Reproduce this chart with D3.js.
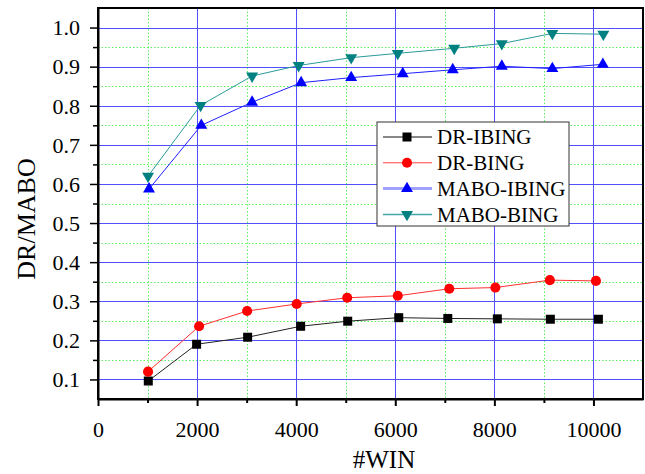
<!DOCTYPE html>
<html>
<head>
<meta charset="utf-8">
<script src="https://cdn.jsdelivr.net/npm/d3@7/dist/d3.min.js"></script>
<style>
  body { margin: 0; background: #fff; }
  svg { display: block; font-family: "Liberation Serif", "DejaVu Serif", serif; }
  .axis path, .axis line { stroke: #000; }
  .axis text { font-size: 22px; fill: #000; font-family: "Liberation Serif", serif; }
</style>
</head>
<body>
<div id="chart"></div>
<script>
// Data
var seriesNames = ["DR-IBING", "DR-BING", "MABO-IBING", "MABO-BING"];

var winDrIbing = [1015, 1990, 3020, 4090, 5040, 6070, 7060, 8060, 9130, 10100];
var drIbing = [0.096, 0.190, 0.208, 0.236, 0.249, 0.258, 0.256, 0.255, 0.254, 0.254];

var winDrBing = [1010, 2040, 3010, 4010, 5030, 6050, 7090, 8020, 9120, 10050];
var drBing = [0.120, 0.236, 0.275, 0.293, 0.309, 0.314, 0.332, 0.335, 0.354, 0.352];

var winMaboIbing = [1030, 2085, 3110, 4100, 5110, 6150, 7160, 8150, 9170, 10190];
var maboIbing = [0.587, 0.750, 0.809, 0.859, 0.872, 0.882, 0.892, 0.901, 0.895, 0.906];

var winMaboBing = [1010, 2070, 3110, 4050, 5110, 6050, 7190, 8150, 9170, 10200];
var maboBing = [0.620, 0.801, 0.876, 0.903, 0.923, 0.934, 0.947, 0.959, 0.985, 0.983];

var xMajorTicks = [0, 2000, 4000, 6000, 8000, 10000];
var xMinorTicks = [1000, 3000, 5000, 7000, 9000];
var yMajorTicks = [0.1, 0.2, 0.3, 0.4, 0.5, 0.6, 0.7, 0.8, 0.9, 1.0];
var yMinorTicks = [0.15, 0.25, 0.35, 0.45, 0.55, 0.65, 0.75, 0.85, 0.95];

var render = function() {
  var width = 645, height = 474;
  var margins = { top: 8, right: 2, bottom: 75, left: 98 };
  var chartWidth = width - margins.left - margins.right;
  var chartHeight = height - margins.top - margins.bottom;

  var svg = d3.select("#chart").html("")
    .append("svg")
    .attr("width", width)
    .attr("height", height);

  var chart = svg.append("g")
    .attr("transform", `translate(${margins.left},${margins.top})`);

  var xScale = d3.scaleLinear().domain([0, 11000]).range([0, chartWidth]);
  var yScale = d3.scaleLinear().domain([0.05, 1.05]).range([chartHeight, 0]);

  // grid
  var snap = v => Math.round(v) + 0.5;
  chart.append("g").selectAll("line")
    .data(yMinorTicks).enter().append("line")
    .attr("x1", 0).attr("x2", chartWidth)
    .attr("y1", d => snap(yScale(d))).attr("y2", d => snap(yScale(d)))
    .attr("stroke", "#5cf05c").attr("stroke-dasharray", "1.5,2");
  chart.append("g").selectAll("line")
    .data(xMinorTicks).enter().append("line")
    .attr("y1", 0).attr("y2", chartHeight)
    .attr("x1", d => snap(xScale(d))).attr("x2", d => snap(xScale(d)))
    .attr("stroke", "#5cf05c").attr("stroke-dasharray", "1.5,2");
  chart.append("g").selectAll("line")
    .data(yMajorTicks).enter().append("line")
    .attr("x1", 0).attr("x2", chartWidth)
    .attr("y1", d => snap(yScale(d))).attr("y2", d => snap(yScale(d)))
    .attr("stroke", "#5050ff");
  chart.append("g").selectAll("line")
    .data(xMajorTicks.slice(1)).enter().append("line")
    .attr("y1", 0).attr("y2", chartHeight)
    .attr("x1", d => snap(xScale(d))).attr("x2", d => snap(xScale(d)))
    .attr("stroke", "#5050ff");

  // frame
  chart.append("rect")
    .attr("x", 0).attr("y", 0)
    .attr("width", chartWidth).attr("height", chartHeight)
    .attr("fill", "none").attr("stroke", "#000").attr("stroke-width", 2);

  // axes
  chart.append("g").attr("class", "x axis")
    .attr("transform", `translate(0,${chartHeight})`)
    .call(d3.axisBottom(xScale).tickValues(xMajorTicks).tickSize(7).tickSizeOuter(0).tickPadding(15).tickFormat(d3.format("d")))
    .call(g => g.select(".domain").attr("stroke-width", 2))
    .call(g => g.selectAll(".tick line").attr("stroke-width", 2));
  chart.append("g").attr("class", "x axis")
    .attr("transform", `translate(0,${chartHeight})`)
    .call(d3.axisBottom(xScale).tickValues(xMinorTicks).tickSize(4).tickSizeOuter(0).tickFormat(""))
    .call(g => g.select(".domain").remove())
    .call(g => g.selectAll(".tick line").attr("stroke-width", 2));

  chart.append("g").attr("class", "y axis")
    .call(d3.axisLeft(yScale).tickValues(yMajorTicks).tickSize(8).tickSizeOuter(0).tickPadding(10).tickFormat(d3.format(".1f")))
    .call(g => g.select(".domain").attr("stroke-width", 2))
    .call(g => g.selectAll(".tick line").attr("stroke-width", 1.5))
    .call(g => g.selectAll(".tick text").attr("dy", "0.33em"));
  chart.append("g").attr("class", "y axis")
    .call(d3.axisLeft(yScale).tickValues(yMinorTicks).tickSize(5).tickSizeOuter(0).tickFormat(""))
    .call(g => g.select(".domain").remove())
    .call(g => g.selectAll(".tick line").attr("stroke-width", 1.5));

  // axis titles
  svg.append("text")
    .attr("x", 384).attr("y", 468)
    .attr("text-anchor", "middle")
    .attr("font-size", 25)
    .text("#WIN");
  svg.append("text")
    .attr("transform", "translate(35,219) rotate(-90)")
    .attr("text-anchor", "middle")
    .attr("font-size", 26)
    .text("DR/MABO");

  // series
  var series = [
    { name: seriesNames[0], x: winDrIbing, y: drIbing, line: "#222", color: "#000", legendLine: "#888", legendWidth: 2, symbol: d3.symbolSquare, size: 81, rotate: 0 },
    { name: seriesNames[1], x: winDrBing, y: drBing, line: "#ff3030", color: "#ff0000", legendLine: "#ff4040", legendWidth: 1, symbol: d3.symbolCircle, size: 80, rotate: 0 },
    { name: seriesNames[2], x: winMaboIbing, y: maboIbing, line: "#2020ff", color: "#0000ff", legendLine: "#a0a0ff", legendWidth: 3, symbol: d3.symbolTriangle, size: 62, rotate: 0 },
    { name: seriesNames[3], x: winMaboBing, y: maboBing, line: "#2a9a9a", color: "#008080", legendLine: "#40a8a8", legendWidth: 1.5, symbol: d3.symbolTriangle, size: 62, rotate: 180 }
  ];

  var line = d3.line().x(d => xScale(d[0])).y(d => yScale(d[1]));

  series.forEach(function(s) {
    var pts = s.x.map((v, i) => [v, s.y[i]]);
    chart.append("path")
      .attr("d", line(pts))
      .attr("fill", "none")
      .attr("stroke", s.line)
      .attr("stroke-width", 1);
    chart.append("g").selectAll("path")
      .data(pts).enter().append("path")
      .attr("d", d3.symbol().type(s.symbol).size(s.size))
      .attr("transform", d => `translate(${xScale(d[0])},${yScale(d[1])}) rotate(${s.rotate})`)
      .attr("fill", s.color);
  });

  // legend
  var legend = svg.append("g").attr("transform", "translate(377,122)");
  legend.append("rect")
    .attr("width", 192).attr("height", 104)
    .attr("fill", "#fff").attr("stroke", "#333").attr("stroke-width", 1);
  var rows = legend.selectAll(".row")
    .data(series).enter().append("g")
    .attr("transform", (d, i) => `translate(0,${15 + i * 25.8})`);
  rows.append("line")
    .attr("x1", 6).attr("x2", 55)
    .attr("stroke", d => d.legendLine)
    .attr("stroke-width", d => d.legendWidth);
  rows.append("path")
    .attr("d", d => d3.symbol().type(d.symbol).size(d.size)())
    .attr("transform", d => `translate(30,0) rotate(${d.rotate})`)
    .attr("fill", d => d.color);
  rows.append("text")
    .attr("x", 60).attr("dy", "0.35em")
    .attr("font-size", 21)
    .text(d => d.name);
};

render();
</script>
</body>
</html>
